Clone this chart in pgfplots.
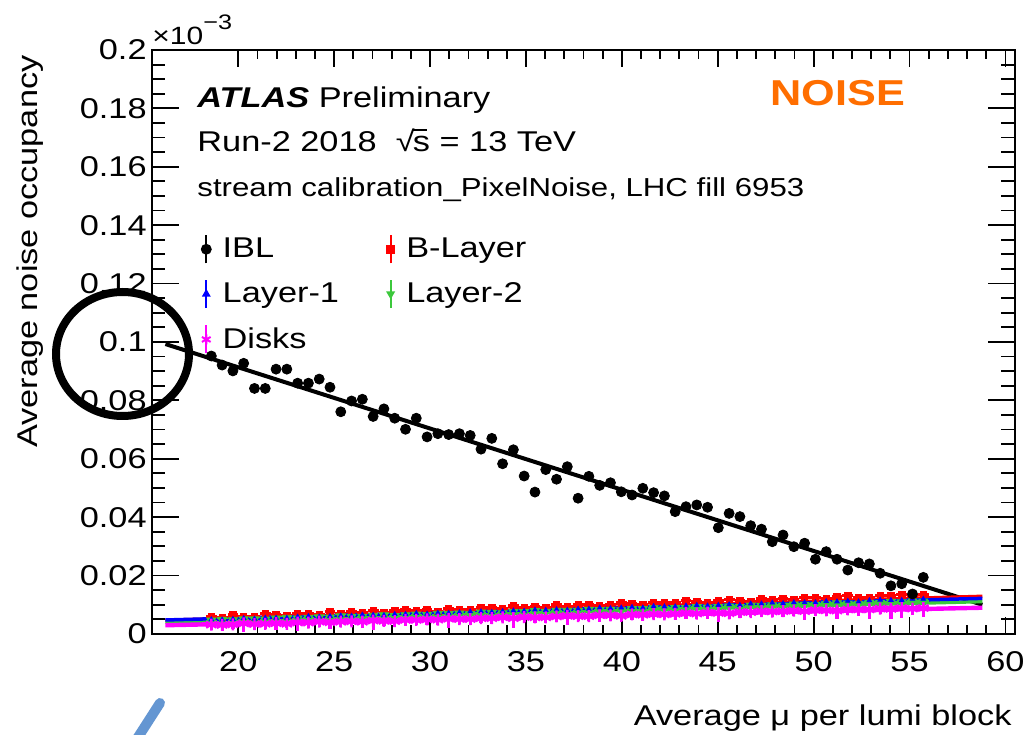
\documentclass[border=0pt]{standalone}
\usepackage{fontspec}
\setmainfont{Liberation Sans}[FakeStretch=1.2]
\usepackage{pgfplots}
\usepackage{pgfplotstable}
\pgfplotsset{compat=1.18}

\definecolor{rootgreen}{RGB}{60,200,60}
\definecolor{rootmagenta}{RGB}{255,0,255}
\definecolor{noiseorange}{RGB}{255,110,0}
\definecolor{arrowblue}{RGB}{100,150,210}

% square root of s set in the text font
\newcommand{\sqrts}{\mbox{√\kern-0.06em\rlap{\rule[0.74em]{0.5em}{0.055em}}s}}

% average noise occupancy (in units of 1e-3) per mu bin
\pgfplotstableread{
mu     ibl    blay   lone   ltwo   disk   diskerr
18.594 0.0952 0.0061 0.0050 0.0046 0.0032 0.0018
19.156 0.0921 0.0057 0.0049 0.0048 0.0031 0.0021
19.719 0.0901 0.0065 0.0051 0.0047 0.0033 0.0016
20.281 0.0927 0.0061 0.0054 0.0050 0.0036 0.0030
20.844 0.0841 0.0059 0.0052 0.0050 0.0034 0.0019
21.406 0.0841 0.0070 0.0055 0.0049 0.0035 0.0018
21.969 0.0907 0.0066 0.0055 0.0053 0.0037 0.0022
22.531 0.0907 0.0063 0.0055 0.0055 0.0035 0.0016
23.094 0.0859 0.0071 0.0059 0.0053 0.0039 0.0028
23.656 0.0859 0.0070 0.0061 0.0055 0.0039 0.0019
24.219 0.0873 0.0068 0.0059 0.0057 0.0042 0.0018
24.781 0.0845 0.0076 0.0061 0.0056 0.0040 0.0023
25.344 0.0761 0.0070 0.0063 0.0060 0.0042 0.0018
25.906 0.0798 0.0076 0.0062 0.0059 0.0043 0.0016
26.469 0.0804 0.0074 0.0066 0.0059 0.0042 0.0021
27.031 0.0745 0.0081 0.0065 0.0062 0.0046 0.0032
27.594 0.0771 0.0073 0.0064 0.0064 0.0045 0.0018
28.156 0.0739 0.0079 0.0068 0.0061 0.0044 0.0019
28.719 0.0701 0.0082 0.0068 0.0064 0.0048 0.0022
29.281 0.0739 0.0079 0.0071 0.0066 0.0048 0.0016
29.844 0.0675 0.0084 0.0069 0.0065 0.0050 0.0019
30.406 0.0686 0.0078 0.0072 0.0069 0.0049 0.0018
30.969 0.0683 0.0088 0.0072 0.0068 0.0052 0.0030
31.531 0.0686 0.0085 0.0074 0.0070 0.0051 0.0018
32.094 0.0680 0.0083 0.0077 0.0069 0.0051 0.0021
32.656 0.0633 0.0090 0.0077 0.0073 0.0054 0.0018
33.219 0.0670 0.0090 0.0075 0.0072 0.0054 0.0019
33.781 0.0583 0.0086 0.0078 0.0071 0.0057 0.0016
34.344 0.0631 0.0096 0.0080 0.0075 0.0054 0.0033
34.906 0.0541 0.0091 0.0079 0.0075 0.0058 0.0018
35.469 0.0486 0.0095 0.0083 0.0078 0.0057 0.0021
36.031 0.0563 0.0092 0.0082 0.0076 0.0057 0.0018
36.594 0.0530 0.0099 0.0084 0.0079 0.0060 0.0019
37.156 0.0573 0.0093 0.0082 0.0079 0.0062 0.0030
37.719 0.0465 0.0099 0.0086 0.0079 0.0061 0.0018
38.281 0.0540 0.0102 0.0086 0.0083 0.0061 0.0016
38.844 0.0509 0.0096 0.0090 0.0082 0.0064 0.0022
39.406 0.0518 0.0101 0.0088 0.0083 0.0064 0.0018
39.969 0.0487 0.0106 0.0090 0.0081 0.0062 0.0019
40.531 0.0476 0.0104 0.0092 0.0085 0.0067 0.0018
41.094 0.0499 0.0101 0.0090 0.0085 0.0066 0.0023
41.656 0.0484 0.0109 0.0095 0.0088 0.0068 0.0018
42.219 0.0473 0.0107 0.0094 0.0086 0.0067 0.0016
42.781 0.0419 0.0106 0.0094 0.0089 0.0069 0.0021
43.344 0.0436 0.0114 0.0097 0.0089 0.0072 0.0019
43.906 0.0442 0.0112 0.0099 0.0092 0.0070 0.0018
44.469 0.0434 0.0108 0.0097 0.0090 0.0073 0.0022
45.031 0.0364 0.0113 0.0099 0.0092 0.0072 0.0031
45.594 0.0413 0.0118 0.0101 0.0094 0.0071 0.0018
46.156 0.0402 0.0114 0.0099 0.0092 0.0075 0.0019
46.719 0.0371 0.0112 0.0104 0.0097 0.0075 0.0018
47.281 0.0359 0.0120 0.0104 0.0096 0.0078 0.0021
47.844 0.0316 0.0118 0.0107 0.0098 0.0077 0.0018
48.406 0.0339 0.0121 0.0105 0.0097 0.0078 0.0019
48.969 0.0299 0.0117 0.0108 0.0101 0.0080 0.0018
49.531 0.0311 0.0126 0.0108 0.0100 0.0078 0.0030
50.094 0.0256 0.0124 0.0108 0.0100 0.0082 0.0019
50.656 0.0282 0.0122 0.0112 0.0103 0.0081 0.0018
51.219 0.0256 0.0127 0.0111 0.0105 0.0080 0.0029
51.781 0.0219 0.0131 0.0113 0.0104 0.0084 0.0019
52.344 0.0244 0.0126 0.0111 0.0103 0.0084 0.0021
52.906 0.0240 0.0125 0.0115 0.0107 0.0084 0.0034
53.469 0.0208 0.0132 0.0117 0.0107 0.0087 0.0019
54.031 0.0165 0.0131 0.0116 0.0110 0.0086 0.0036
54.594 0.0172 0.0134 0.0116 0.0108 0.0089 0.0034
55.156 0.0137 0.0131 0.0120 0.0111 0.0087 0.0022
55.719 0.0194 0.0135 0.0120 0.0111 0.0089 0.0031
}\noisedata

\begin{document}
\begin{tikzpicture}[font=\fontsize{14.3}{17}\selectfont]
\useasboundingbox (0,0) rectangle (512.5pt,367.5pt);
\begin{axis}[
  scale only axis,
  width=431.5pt, height=292pt,
  at={(76pt,50.5pt)}, anchor=south west,
  xmin=15.5, xmax=60.5, ymin=0, ymax=0.2,
  xtick={20,25,30,35,40,45,50,55,60},
  xticklabels={20,25,30,35,40,45,50,55,60},
  minor x tick num=4,
  ytick={0,0.02,0.04,0.06,0.08,0.1,0.12,0.14,0.16,0.18,0.2},
  yticklabels={0,0.02,0.04,0.06,0.08,0.1,0.12,0.14,0.16,0.18,0.2},
  minor y tick num=3,
  tick align=inside,
  major tick length=13.5pt, minor tick length=6.75pt,
  xtick style={/pgfplots/major tick length=8.5pt, /pgfplots/minor tick length=4.5pt},
  every tick/.style={black, line width=0.9pt},
  axis line style={line width=0.9pt},
  tick label style={font=\fontsize{14.3}{17}\selectfont},
  yticklabel style={anchor=east, inner sep=0pt, xshift=-2.5pt},
  xticklabel style={anchor=base, inner sep=0pt, yshift=-19pt},
  xlabel={Average μ per lumi block},
  ylabel={Average noise occupancy},
  xlabel style={at={(axis description cs:0.9965,-0.1575)}, anchor=base east, inner sep=0pt},
  ylabel style={at={(axis description cs:-0.1321,0.9914)}, anchor=base east, inner sep=0pt},
  legend columns=2,
  legend cell align=left,
  legend style={at={(axis description cs:0.0504,0.6926)}, anchor=north west,
    draw=none, fill=none, row sep=7pt,
    font=\fontsize{14.3}{17}\selectfont,
    /tikz/every odd column/.append style={column sep=4pt},
    /tikz/every even column/.append style={column sep=22pt}},
  legend image code/.code={
    \draw[#1, mark=none] (0pt,-7pt) -- (0pt,7pt);
    \draw[#1, only marks] plot coordinates {(0pt,0pt)};
  },
]
% linear fits
\addplot[black, line width=2pt, forget plot] coordinates {(16.2,0.0993) (58.8,0.0100)};
\addplot[red, line width=1.75pt, forget plot] coordinates {(16.2,0.0047) (58.8,0.0129)};
\addplot[rootgreen, line width=1.75pt, forget plot] coordinates {(16.2,0.0041) (58.8,0.0111)};
\addplot[blue, line width=1.75pt, forget plot] coordinates {(16.2,0.0048) (58.8,0.0122)};
\addplot[rootmagenta, line width=2.2pt, forget plot] coordinates {(16.2,0.0030) (58.8,0.0090)};

% B-Layer
\addplot[only marks, red, mark=square*, mark size=1.6pt, forget plot,
  error bars/.cd, x dir=both, x fixed=0.28125, y dir=both, y fixed=0.0004,
  error mark=none, error bar style={line width=1.6pt, red}]
  table[x=mu, y=blay] {\noisedata};
% Layer-2
\addplot[only marks, rootgreen, mark=triangle*, mark options={rotate=180}, mark size=2.6pt, forget plot,
  error bars/.cd, x dir=both, x fixed=0.28125, y dir=both, y fixed=0.0008,
  error mark=none, error bar style={line width=2pt, rootgreen}]
  table[x=mu, y=ltwo] {\noisedata};
% Layer-1
\addplot[only marks, blue, mark=triangle*, mark size=1.3pt, forget plot,
  error bars/.cd, x dir=both, x fixed=0.28125, y dir=both, y fixed=0.0003,
  error mark=none, error bar style={line width=0.9pt, blue}]
  table[x=mu, y=lone] {\noisedata};
% Disks
\addplot[only marks, rootmagenta, mark=asterisk, mark size=3pt, mark options={line width=1.2pt}, forget plot,
  error bars/.cd, x dir=both, x fixed=0.28125, y dir=both, y explicit,
  error mark=none, error bar style={line width=1.6pt, rootmagenta}]
  table[x=mu, y=disk, y error=diskerr] {\noisedata};
% IBL
\addplot[only marks, black, mark=*, mark size=2.5pt, forget plot]
  table[x=mu, y=ibl] {\noisedata};

\addlegendimage{black, mark=*, mark size=2.2pt, line width=1pt}
\addlegendentry{IBL}
\addlegendimage{red, mark=square*, mark size=1.8pt, line width=1pt}
\addlegendentry{B-Layer}
\addlegendimage{blue, mark=triangle*, mark size=1.6pt, line width=1pt}
\addlegendentry{Layer-1}
\addlegendimage{rootgreen, mark=triangle*, mark options={rotate=180}, mark size=1.6pt, line width=1pt}
\addlegendentry{Layer-2}
\addlegendimage{rootmagenta, mark=asterisk, mark size=2.5pt, line width=1pt}
\addlegendentry{Disks}
\end{axis}

% axis multiplier
\node[anchor=base west, inner sep=0pt, font=\fontsize{12.5}{14}\selectfont] at (76pt,345pt)
  {×10\raisebox{7.5pt}{\fontsize{10.5}{12}\selectfont −3}};
% labels inside the frame
\node[anchor=base west, inner sep=0pt] at (98.5pt,313.85pt) {\textbf{\textit{ATLAS}} Preliminary};
\node[anchor=base west, inner sep=0pt] at (98.5pt,291.65pt) {Run-2 2018 \ \sqrts\ = 13 TeV};
\node[anchor=base west, inner sep=0pt, font=\fontsize{13}{15}\selectfont] at (98.5pt,269.15pt)
  {stream calibration\_PixelNoise, LHC fill 6953};
\node[anchor=base west, inner sep=0pt, font=\fontsize{18}{20}\selectfont\bfseries, text=noiseorange]
  at (385pt,314.5pt) {NOISE};
% highlight of the 0.1 tick
\draw[line width=4pt] (61.25pt,190.5pt) ellipse [x radius=33.25pt, y radius=31pt];
% pointer stroke at the lower left
\draw[arrowblue, line width=5pt, line cap=round] (62pt,-12pt) -- (80pt,16pt);
\end{tikzpicture}
\end{document}
